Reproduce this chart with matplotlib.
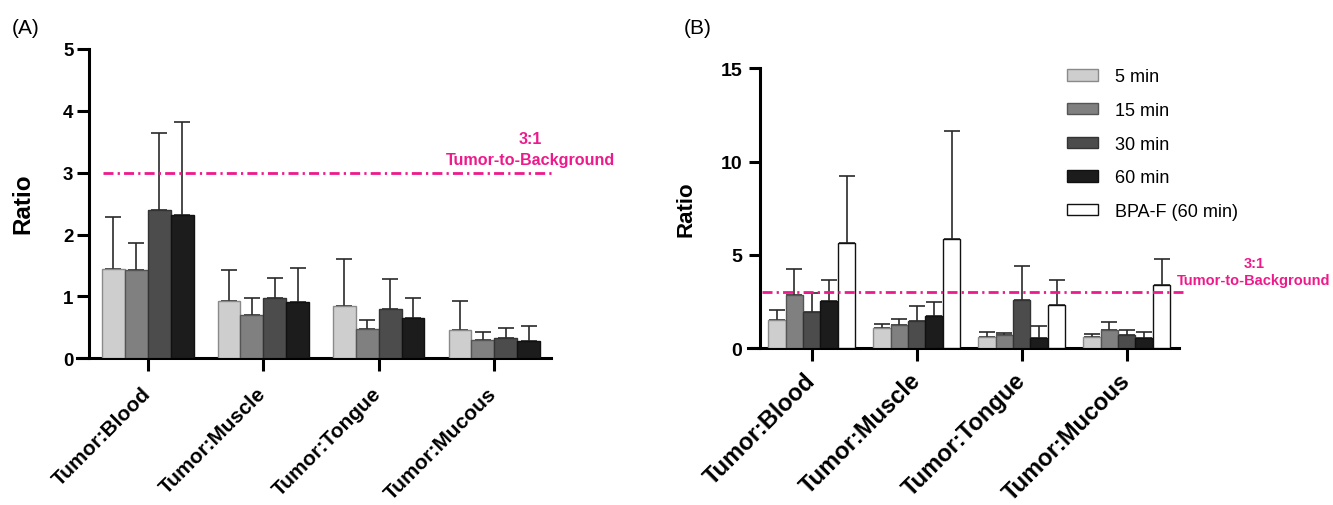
import numpy as np
import matplotlib
matplotlib.use("Agg")
import matplotlib.pyplot as plt
from matplotlib.transforms import ScaledTranslation

plt.rcParams["font.family"] = ["Liberation Sans", "DejaVu Sans"]

categories = ["Tumor:Blood", "Tumor:Muscle", "Tumor:Tongue", "Tumor:Mucous"]

# panel A: mean ratio and SD (upper bar only)
a_labels = ["5 min", "15 min", "30 min", "60 min"]
a_5 = [1.45, 0.93, 0.85, 0.45]
a_5_sd = [0.83, 0.49, 0.76, 0.48]
a_15 = [1.42, 0.70, 0.47, 0.29]
a_15_sd = [0.45, 0.27, 0.15, 0.13]
a_30 = [2.40, 0.98, 0.80, 0.33]
a_30_sd = [1.25, 0.32, 0.48, 0.16]
a_60 = [2.31, 0.91, 0.65, 0.28]
a_60_sd = [1.51, 0.55, 0.32, 0.24]

# panel B
b_labels = ["5 min", "15 min", "30 min", "60 min", "BPA-F (60 min)"]
b_5 = [1.52, 1.07, 0.59, 0.59]
b_5_sd = [0.55, 0.25, 0.27, 0.16]
b_15 = [2.86, 1.27, 0.70, 0.96]
b_15_sd = [1.37, 0.30, 0.10, 0.45]
b_30 = [1.96, 1.46, 2.57, 0.71]
b_30_sd = [0.99, 0.81, 1.86, 0.25]
b_60 = [2.55, 1.73, 0.57, 0.55]
b_60_sd = [1.09, 0.75, 0.63, 0.33]
b_bpa = [5.63, 5.84, 2.30, 3.41]
b_bpa_sd = [3.58, 5.79, 1.38, 1.36]

threshold = 3
threshold_text = ["3:1", "Tumor-to-Background"]

fills = ["#cdcecd", "#7f807f", "#4b4c4b", "#1b1c1b", "#ffffff"]
edges = ["#8a8a8a", "#555555", "#333333", "#111111", "#111111"]
pink = "#ee1a8c"

W, H = 1333, 506
fig = plt.figure(figsize=(W / 100, H / 100), dpi=100)


def px_axes(left, right, top, bottom):
    return fig.add_axes([left / W, 1 - bottom / H, (right - left) / W, (bottom - top) / H])


def draw_panel(ax, means, sds, labels, width):
    x = np.arange(len(categories))
    n = len(means)
    for i in range(n):
        pos = x + (i - (n - 1) / 2) * width
        m = np.array(means[i])
        ax.bar(pos, m, width, color=fills[i], edgecolor=edges[i],
               linewidth=1.0, label=labels[i], zorder=3)
        ax.errorbar(pos, m, yerr=[np.zeros_like(m), sds[i]], fmt="none",
                    ecolor="#2a2a2a", elinewidth=1.2, capsize=6, capthick=1.2, zorder=2)
    ax.set_xticks(x)
    ax.set_xticklabels(categories)
    for s in ["top", "right"]:
        ax.spines[s].set_visible(False)
    for s in ["left", "bottom"]:
        ax.spines[s].set_linewidth(2.2)


def style_xlabels(ax, size, dx_px):
    shift = ScaledTranslation(dx_px / 100, 0, fig.dpi_scale_trans)
    for lab in ax.get_xticklabels():
        lab.set(rotation=45, ha="right", va="top", rotation_mode="anchor",
                fontsize=size, fontweight="bold")
        lab.set_transform(lab.get_transform() + shift)


axA = px_axes(77, 551.4, 50, 359.3)
draw_panel(axA, [a_5, a_15, a_30, a_60], [a_5_sd, a_15_sd, a_30_sd, a_60_sd], a_labels, 0.198)
axA.set_xlim(-0.613, 3.495)
axA.set_ylim(0, 5)
axA.set_yticks([0, 1, 2, 3, 4, 5])
axA.spines["left"].set_position(("data", -0.506))
axA.tick_params(axis="x", length=9, width=2.2, pad=9)
axA.tick_params(axis="y", length=8.5, width=2.2, pad=3)
style_xlabels(axA, 15, -7)
for lab in axA.get_yticklabels():
    lab.set(fontsize=13.5, fontweight="bold")
axA.plot([-0.39, 3.53], [threshold, threshold], color=pink, lw=2,
         ls=(0, (3.6, 1.5, 0.8, 1.5)), clip_on=False, zorder=5)
axA.text(3.31, 3.48, threshold_text[0], ha="center", va="baseline", color=pink,
         fontsize=11.6, fontweight="bold", clip_on=False)
axA.text(3.31, 3.14, threshold_text[1], ha="center", va="baseline", color=pink,
         fontsize=11.6, fontweight="bold", clip_on=False)

axB = px_axes(748.3, 1179, 69.3, 349.3)
draw_panel(axB, [b_5, b_15, b_30, b_60, b_bpa],
           [b_5_sd, b_15_sd, b_30_sd, b_60_sd, b_bpa_sd], b_labels, 0.166)
axB.set_xlim(-0.604, 3.498)
axB.set_ylim(0, 15)
axB.set_yticks([0, 5, 10, 15])
axB.spines["left"].set_position(("data", -0.492))
axB.tick_params(axis="x", length=9, width=2.2, pad=5.5)
axB.tick_params(axis="y", length=8, width=2.2, pad=5)
style_xlabels(axB, 17, -8)
for lab in axB.get_yticklabels():
    lab.set(fontsize=14, fontweight="bold")
axB.plot([-0.476, 3.54], [threshold, threshold], color=pink, lw=2,
         ls=(0, (3.6, 1.5, 0.8, 1.5)), clip_on=False, zorder=5)
axB.text(4.21, 4.35, threshold_text[0], ha="center", va="baseline", color=pink,
         fontsize=10.5, fontweight="bold", clip_on=False)
axB.text(4.21, 3.44, threshold_text[1], ha="center", va="baseline", color=pink,
         fontsize=10.5, fontweight="bold", clip_on=False)

axB.legend(loc="upper left", bbox_to_anchor=(1067.3 / W, 1 - 69.5 / H),
           bbox_transform=fig.transFigure, frameon=False, fontsize=13,
           handlelength=1.72, handleheight=0.59, handletextpad=0.92,
           labelspacing=0.92, borderpad=0, borderaxespad=0)

fig.text(22.5 / W, 1 - 204 / H, "Ratio", rotation=90, ha="center", va="center",
         fontsize=17.5, fontweight="bold")
fig.text(686 / W, 1 - 209.5 / H, "Ratio", rotation=90, ha="center", va="center",
         fontsize=16, fontweight="bold")
fig.text(12 / W, 1 - 28 / H, "(A)", ha="left", va="center", fontsize=15)
fig.text(684 / W, 1 - 29 / H, "(B)", ha="left", va="center", fontsize=15)

fig.savefig("out.png", dpi=100)
